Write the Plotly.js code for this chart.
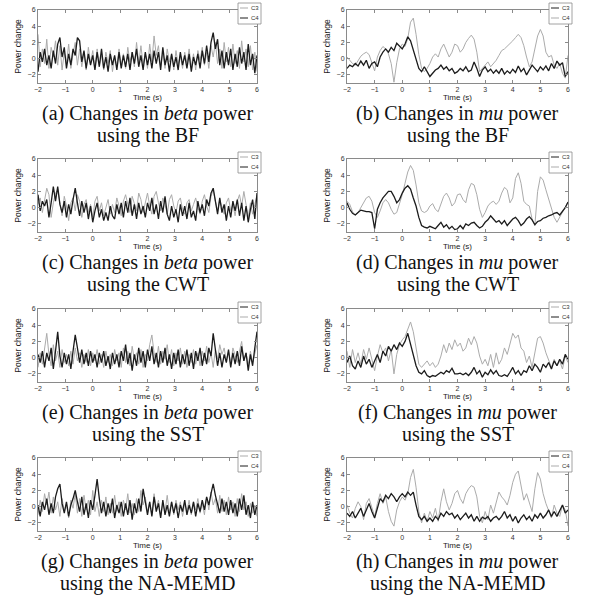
<!DOCTYPE html>
<html><head><meta charset="utf-8">
<script src="https://cdn.plot.ly/plotly-3.0.1.min.js"></script>
<style>html,body{margin:0;padding:0;background:#fff}</style>
</head><body><div id="chart" style="width:590px;height:599px"></div>
<script>
// ---- beta-band series (sample step 0.08 s, from -2 s to 6 s) ----
const betaBF_C3 = [3.0,-1.0,1.2,-0.6,2.4,-1.2,1.4,0.2,2.2,-0.8,1.6,-1.4,0.8,
 -0.6,1.8,-1.2,0.6,2.0,-0.8,1.2,-1.0,0.8,-1.4,1.4,-0.6,1.0,
 -1.2,1.2,-0.8,0.4,-1.4,0.8,-0.6,1.0,-1.6,0.2,-1.0,1.2,-0.8,
 0.6,-1.2,1.4,-0.4,0.8,-1.0,2.0,-0.6,1.6,-0.8,0.6,-1.2,
 1.8,-0.4,2.8,0.4,1.6,-1.0,0.8,-1.2,1.2,-0.4,0.6,-1.4,
 1.0,-0.8,0.4,-1.2,0.8,-0.6,1.2,-1.0,0.6,-1.4,1.0,-0.2,1.4,
 -0.8,0.8,-1.2,1.6,0.2,2.0,-0.6,1.2,-1.2,2.0,-0.4,1.4,
 -1.0,1.8,-0.6,1.0,-1.2,2.2,-0.4,1.2,-1.0,1.6,-1.4,0.8,-1.6];
const betaBF_C4 = [-1.6,0.8,-0.4,1.2,-0.8,0.4,-1.2,1.0,-0.6,1.8,2.6,0.2,1.4,
 -1.2,0.6,-0.8,1.2,0.4,2.6,2.2,-0.4,1.0,-1.2,0.6,-0.8,0.4,
 -1.4,0.8,-1.0,1.2,-1.2,0.2,-1.6,0.6,-0.8,0.4,-1.4,0.8,-1.2,
 0.4,-1.0,0.6,-1.4,0.8,-0.6,1.2,-1.0,0.4,-1.4,0.8,-0.8,
 0.6,-1.2,1.0,-0.6,0.8,-1.4,1.4,-0.8,0.4,-1.6,0.6,-1.0,
 0.2,-1.4,0.8,-0.8,0.4,-1.2,0.6,-1.6,0.2,-0.8,0.6,-1.2,1.0,
 -0.6,1.6,-0.4,2.0,3.2,1.2,2.4,-0.8,1.0,-1.2,0.8,-0.8,
 1.2,-1.4,0.6,-1.0,1.4,-0.6,0.8,-1.4,1.8,-0.8,0.6,-1.8,0.4];
const betaCWT_C3 = [0.4,1.2,-0.6,0.8,2.4,1.6,-1.2,0.6,1.8,2.2,0.4,-1.0,1.4,
 0.2,-1.6,0.6,1.2,-0.4,1.6,0.8,-1.2,0.4,1.0,-0.6,0.4,-1.2,
 0.8,1.4,-0.4,0.6,-1.0,0.2,1.0,-0.8,0.4,-0.6,1.2,0.2,-1.0,
 0.8,1.6,0.4,-0.6,1.4,0.6,-0.4,1.8,1.0,-0.6,0.8,1.8,
 0.2,-0.8,1.4,2.0,0.6,-0.4,1.2,0.4,-0.8,1.0,1.6,0.2,
 -0.6,0.8,1.2,-0.2,-0.8,0.6,1.0,-0.4,0.4,1.2,0.0,-0.8,0.8,
 1.6,0.2,-0.6,1.4,2.2,0.8,-0.4,1.0,0.2,-0.8,0.6,1.2,
 -0.4,0.4,-1.0,0.8,1.6,0.2,2.0,0.4,-1.2,0.6,-0.8,0.4,1.6];
const betaCWT_C4 = [1.6,-0.4,0.8,0.2,1.0,-1.2,0.6,2.6,0.8,2.6,0.4,-0.6,0.8,
 -1.2,0.4,-0.8,1.0,2.4,0.6,-1.0,0.8,-0.6,0.6,-1.4,0.2,-1.8,
 -0.4,0.6,-1.2,-0.2,-1.6,-0.6,-1.6,0.2,-1.0,-1.4,0.4,-0.8,0.6,
 -1.2,0.8,-0.6,1.2,-1.0,0.4,-1.4,0.6,-0.8,0.2,-1.2,0.6,
 -0.4,1.2,-0.8,0.4,-1.4,0.8,-0.6,1.4,-0.8,-1.6,0.2,-1.2,
 -0.2,-1.8,0.4,-1.0,0.2,-1.4,0.6,-1.2,-0.4,-1.6,0.8,-0.6,0.4,
 -1.0,1.0,0.2,1.8,2.4,0.6,-0.8,1.2,-0.6,0.4,-1.6,0.2,
 -1.2,0.8,-0.4,1.0,-1.0,0.6,-1.6,0.2,-1.8,-0.2,1.0,-1.4,1.8];
const betaSST_C3 = [0.4,-0.6,0.8,-1.2,0.6,-0.4,1.2,-1.4,0.8,3.2,0.2,-1.2,0.6,
 -0.8,0.4,-1.4,0.8,2.8,1.2,-0.6,1.0,-0.8,0.6,-1.0,0.8,-0.6,
 0.4,-1.2,0.6,-0.6,0.8,-1.0,0.2,-1.4,0.6,-0.8,0.4,-1.2,0.8,
 -0.4,1.6,-0.8,0.6,-1.6,0.4,-1.0,1.2,-0.6,0.8,-1.2,1.0,
 -0.4,1.4,-0.8,0.6,-1.2,0.8,-0.6,1.2,-1.0,0.4,-1.4,0.6,
 -0.8,1.0,-1.2,0.4,-0.8,1.0,-1.0,0.6,-1.4,0.8,-0.4,1.2,-1.0,
 0.6,-0.8,1.2,0.2,3.0,0.8,-1.0,0.6,-1.2,0.4,-0.6,1.0,
 -1.2,0.6,-0.8,0.8,-1.0,1.4,-0.4,0.6,-1.6,0.4,-1.0,1.2,3.2];
const betaSST_C4 = [-1.2,0.6,-0.8,1.4,3.0,0.4,-1.0,1.6,-0.4,0.8,-1.2,1.0,-0.6,
 0.4,-1.0,0.8,-0.8,1.2,-0.4,0.6,-1.2,0.4,-0.6,1.0,-1.0,0.6,
 -0.4,1.0,-0.8,0.4,-1.2,0.8,-0.6,0.4,-1.0,1.0,-0.4,0.6,-1.2,
 1.2,-0.6,0.8,-1.0,1.4,-0.2,0.6,-0.8,1.0,-1.2,0.4,-0.4,
 1.6,2.8,0.6,-0.6,1.4,-0.8,0.8,-0.2,1.6,-0.6,1.0,-1.0,
 0.6,-0.4,1.2,-0.8,0.8,-1.2,0.4,-0.6,1.0,-0.8,0.6,-1.0,0.8,
 -0.4,1.4,-0.6,0.6,-1.2,1.0,-0.2,1.6,0.4,1.2,-0.4,0.8,
 -0.8,1.2,0.2,-0.6,0.8,2.0,-0.4,0.6,-1.0,0.8,-0.6,0.4,1.6];
const betaMEMD_C3 = [-1.0,0.8,-0.6,1.6,0.2,1.8,-0.8,1.2,-0.4,0.6,-1.2,1.0,-0.6,
 0.4,-1.4,0.8,-0.2,1.6,-0.8,1.0,-1.2,1.4,-0.4,0.8,-1.0,2.0,
 -0.6,0.6,-1.2,0.8,-0.6,1.2,-1.0,0.4,-0.8,1.4,-0.6,0.6,-1.2,
 0.8,-0.4,1.6,-0.8,0.4,-1.0,1.0,-0.6,2.0,0.2,1.2,-0.8,
 0.6,-1.0,1.6,-0.2,0.8,-1.2,0.4,-0.6,1.4,-0.8,0.6,-1.0,
 0.8,-0.4,0.6,-1.2,0.4,-0.6,0.8,-1.0,0.6,-0.4,1.0,-0.8,0.4,
 -1.0,1.2,-0.4,1.8,0.2,1.0,-0.8,1.4,-0.6,0.8,-1.0,1.2,
 -0.4,0.6,-1.2,1.0,-0.6,1.6,-0.4,0.6,-1.2,0.4,-0.8,0.2,-1.2];
const betaMEMD_C4 = [0.2,-1.2,0.6,-0.4,1.0,-1.0,0.4,-0.8,1.2,2.2,2.8,0.4,-0.8,
 0.6,-1.2,0.2,1.0,2.0,0.6,-0.6,1.2,-1.0,0.4,-1.4,0.8,-0.4,
 1.4,3.4,1.0,-0.8,0.6,-1.2,0.4,-0.8,1.0,-1.4,0.2,-0.8,0.6,
 -1.2,0.4,-1.0,0.8,-1.6,0.4,-0.8,1.0,-0.6,2.2,0.8,-1.0,
 0.6,-1.2,1.2,-0.6,0.4,-1.4,0.8,-1.0,0.2,-1.2,0.6,-0.8,
 0.4,-1.4,0.2,-0.6,0.8,-1.0,0.2,-0.8,0.6,-1.2,0.4,-0.6,0.8,
 -0.4,1.2,0.2,1.6,2.8,1.4,0.2,-0.8,1.0,-0.6,0.6,-1.0,
 0.8,-0.8,0.4,-1.2,1.0,-0.4,1.4,-1.0,0.2,-1.4,0.6,-1.0,0.2];

// ---- mu-band series (sample step 0.1 s, from -2 s to 6 s) ----
const muBF_C3 = [-1.2,-0.8,-1.0,-0.6,-0.9,-0.3,-0.8,-0.2,-1.2,-0.6,
 -0.4,-1.0,0.2,0.8,1.2,0.8,1.4,1.0,1.9,1.5,
 1.2,1.8,2.7,2.2,1.0,-0.2,-1.2,-1.6,-1.0,-1.6,
 -2.2,-1.8,-1.4,-1.2,-0.8,-1.3,-1.0,-1.5,-1.2,-1.8,
 -1.6,-1.2,-1.5,-1.0,-1.6,-1.4,-0.4,-1.2,-2.2,-1.4,
 -1.0,-1.6,-1.3,-1.8,-1.4,-1.8,-1.2,-1.9,-1.5,-1.8,
 -1.3,-1.7,-0.9,-1.6,-1.2,-2.0,-1.4,-0.8,-1.2,-1.6,
 -1.0,-1.4,-0.9,-1.5,-0.6,-1.2,-0.3,-0.8,-0.5,-2.2,
 -1.6];
const muBF_C4 = [0.2,-0.2,-0.6,-0.8,-0.2,0.3,0.6,0.8,0.5,-0.5,
 -1.5,0.2,1.0,1.5,1.2,0.6,-0.6,-2.9,-0.5,1.2,
 1.8,1.5,2.5,4.5,5.0,3.0,0.5,-1.2,-1.6,-1.2,
 -0.6,0.2,0.6,0.2,1.2,1.8,1.0,0.2,0.8,1.8,
 1.6,0.8,1.2,2.0,2.5,2.9,2.4,0.8,-1.6,-1.2,
 -0.8,-0.4,-1.0,-0.6,-0.2,0.4,1.0,1.2,1.5,1.8,
 2.2,2.6,3.0,2.6,1.6,0.2,-1.0,-0.4,1.2,2.8,
 3.6,2.8,0.8,0.2,0.4,-0.8,-1.2,-0.6,-1.8,-2.4,
 0.4];
const muCWT_C3 = [0.6,-0.2,-0.7,-0.9,-0.6,-0.3,-0.4,-0.5,-0.5,-0.6,
 -2.6,-0.2,0.6,1.2,1.6,2.0,2.0,1.4,0.6,1.0,
 1.8,2.4,2.7,2.3,1.2,0.2,-1.2,-2.2,-2.4,-2.5,
 -2.3,-2.5,-2.6,-2.2,-1.8,-2.4,-2.1,-2.6,-2.3,-2.7,
 -2.6,-2.2,-2.6,-2.0,-2.2,-1.9,-1.8,-2.2,-2.5,-2.3,
 -1.8,-1.5,-1.0,-1.4,-1.8,-1.6,-2.0,-1.6,-2.2,-1.8,
 -1.4,-1.2,-1.6,-2.2,-1.9,-1.4,-1.1,-1.5,-2.1,-1.7,
 -1.6,-1.3,-1.2,-1.0,-0.9,-0.7,-0.6,-0.9,-0.5,0.0,
 0.7];
const muCWT_C4 = [0.8,0.4,-0.5,-0.9,-0.6,0.0,0.6,1.2,1.4,0.8,
 -0.6,-1.2,-0.4,0.6,1.0,0.6,-0.2,-0.8,-0.6,0.4,
 1.6,3.0,4.4,5.2,4.6,2.8,0.6,-0.4,-0.6,-0.4,
 0.2,0.5,-0.2,-0.5,0.4,1.4,1.8,1.2,0.2,0.6,
 1.6,1.7,1.0,0.6,2.2,3.0,2.8,1.6,-0.2,-1.2,
 -0.6,0.2,0.6,0.8,0.4,0.8,1.8,2.5,2.2,0.6,
 1.2,3.6,4.3,3.0,0.8,0.4,0.2,-1.4,-2.2,2.0,
 3.8,3.4,2.2,1.0,-0.2,-1.2,-1.8,-1.2,-0.6,0.0,
 0.7];
const muSST_C3 = [0.8,-1.2,1.0,-0.6,0.6,-0.8,1.0,-0.2,1.2,-0.4,
 -1.6,0.2,1.6,0.6,1.2,-0.4,1.0,-2.0,0.4,1.6,
 2.2,2.6,3.6,4.4,3.2,1.0,-0.8,-1.2,-0.8,-0.4,
 -1.0,-0.6,-1.2,-0.8,0.2,1.6,0.6,1.8,1.0,2.2,
 1.4,1.8,0.8,1.2,2.4,1.6,2.6,1.8,0.2,-0.8,
 -0.2,-1.0,0.4,-1.2,0.6,-0.8,-0.2,1.2,0.4,1.6,
 3.0,2.4,2.8,1.2,0.8,-0.6,0.2,-1.2,0.6,2.4,
 2.6,1.8,0.6,-0.4,-1.2,-0.2,-1.0,-0.4,-1.4,0.2,
 -0.6];
const muSST_C4 = [-0.6,0.2,-1.0,-1.4,-0.4,-1.2,0.2,-0.8,-0.2,-1.2,
 -0.4,0.4,-0.6,0.8,0.2,1.4,0.8,1.6,1.0,1.8,
 1.4,2.0,3.0,1.6,0.4,-1.0,-1.8,-2.0,-1.6,-2.2,
 -2.4,-2.2,-2.3,-2.0,-1.8,-2.0,-1.6,-1.8,-1.3,-2.0,
 -2.0,-1.9,-2.1,-1.9,-2.2,-1.8,-1.2,-2.0,-1.6,-2.4,
 -1.8,-2.1,-1.5,-2.0,-1.6,-2.2,-2.3,-2.1,-2.3,-1.8,
 -1.2,-2.0,-1.6,-2.2,-1.6,-1.8,-1.0,-1.6,-0.8,-1.2,
 -1.8,-0.8,-1.2,-0.6,-1.4,-0.4,-1.0,-0.2,-0.8,0.4,
 -0.2];
const muMEMD_C3 = [-0.8,-1.2,-0.6,-1.4,-0.8,-0.2,-1.2,-0.4,0.4,-0.6,
 -1.4,-0.2,1.0,0.6,1.4,1.0,1.6,1.2,0.6,1.2,
 1.6,1.2,1.8,1.4,1.8,0.2,-1.2,-1.6,-1.2,-1.8,
 -1.4,-1.8,-1.2,-1.6,-0.8,-1.2,-0.6,-1.0,-0.8,-1.4,
 -1.0,-1.6,-1.2,-0.8,-1.4,-1.0,-1.8,-1.2,-1.8,-1.3,
 -1.5,-1.2,-1.8,-1.4,-1.2,-1.6,-1.2,-0.6,-1.4,-1.0,
 -1.8,-1.2,-2.0,-1.4,-1.0,-1.6,-1.2,-1.8,-1.0,-1.4,
 -0.8,-1.4,-1.0,-0.4,-1.2,-0.6,-1.2,-0.4,0.2,-0.8,
 -0.4];
const muMEMD_C4 = [0.2,-0.8,-1.4,-0.2,0.6,0.0,-1.6,0.4,1.0,-0.2,
 -1.2,0.4,1.6,0.4,1.2,-0.6,-1.8,-2.4,-0.4,0.6,
 1.2,0.8,1.6,3.6,4.6,2.4,-0.6,-2.0,-0.8,-1.8,
 -0.6,-1.4,-0.2,-1.8,0.6,2.2,0.6,-0.4,0.4,1.6,
 2.0,1.0,0.4,1.6,2.2,2.6,2.4,1.2,-1.2,-2.0,
 -0.6,-1.6,0.2,-0.8,0.6,1.8,1.2,0.8,0.2,1.4,
 3.0,4.0,4.4,2.6,0.8,1.6,0.4,-0.6,2.2,4.2,
 3.4,1.6,0.4,-0.4,-1.4,0.2,-0.8,-1.2,0.2,-0.4,
 -2.4];

const xTicks = [-2,-1,0,1,2,3,4,5,6];
const yTicks = [-2,0,2,4,6];
const captions1 = ['(a) Changes in <i>beta</i> power','(b) Changes in <i>mu</i> power',
 '(c) Changes in <i>beta</i> power','(d) Changes in <i>mu</i> power',
 '(e) Changes in <i>beta</i> power','(f) Changes in <i>mu</i> power',
 '(g) Changes in <i>beta</i> power','(h) Changes in <i>mu</i> power'];
const captions2 = ['using the BF','using the BF','using the CWT','using the CWT',
 'using the SST','using the SST','using the NA-MEMD','using the NA-MEMD'];

const panels = [
 {c3: betaBF_C3, c4: betaBF_C4, dark: 'C4', dt: 0.08},
 {c3: muBF_C3, c4: muBF_C4, dark: 'C3', dt: 0.1},
 {c3: betaCWT_C3, c4: betaCWT_C4, dark: 'C4', dt: 0.08},
 {c3: muCWT_C3, c4: muCWT_C4, dark: 'C3', dt: 0.1},
 {c3: betaSST_C3, c4: betaSST_C4, dark: 'C3', dt: 0.08},
 {c3: muSST_C3, c4: muSST_C4, dark: 'C4', dt: 0.1},
 {c3: betaMEMD_C3, c4: betaMEMD_C4, dark: 'C4', dt: 0.08},
 {c3: muMEMD_C3, c4: muMEMD_C4, dark: 'C3', dt: 0.1}
];

const W = 590, H = 599;
const colX = [[38, 257], [347, 568]];
const rowTop = [10, 159, 309, 458];
const PH = 73;
const DARK = '#1c1c1c', LIGHT = '#ababab';
const px = v => v / W, py = v => 1 - v / H;

const traces = [];
const layout = {
  width: W, height: H, margin: {l: 0, r: 0, t: 0, b: 0},
  paper_bgcolor: '#fff', plot_bgcolor: '#fff', showlegend: false,
  font: {family: 'Liberation Sans, Arial, sans-serif', color: '#333'},
  shapes: [], annotations: []
};

panels.forEach((p, i) => {
  const col = i % 2, row = Math.floor(i / 2);
  const sfx = i === 0 ? '' : String(i + 1);
  const xa = 'x' + sfx, ya = 'y' + sfx;
  const [x0, x1] = colX[col];
  const top = rowTop[row], bot = top + PH;
  const order = p.dark === 'C4' ? ['C3', 'C4'] : ['C4', 'C3'];
  order.forEach(name => {
    const isDark = name === p.dark;
    traces.push({
      type: 'scatter', mode: 'lines', name: name,
      y: name === 'C3' ? p.c3 : p.c4, x0: -2, dx: p.dt,
      xaxis: xa, yaxis: ya,
      line: {color: isDark ? DARK : LIGHT, width: isDark ? 1.3 : 1.0},
      hoverinfo: 'skip'
    });
  });
  const axCommon = {
    showline: true, mirror: 'ticks', linecolor: '#8a8a8a', linewidth: 1,
    ticks: 'inside', ticklen: 3, tickcolor: '#8a8a8a', showgrid: false, zeroline: false,
    tickfont: {size: 7, color: '#333'}, automargin: false, fixedrange: true
  };
  layout['xaxis' + sfx] = Object.assign({}, axCommon, {
    domain: [px(x0), px(x1)], anchor: ya, range: [-2, 6],
    tickmode: 'array', tickvals: xTicks,
    title: {text: 'Time (s)', font: {size: 8, color: '#222'}, standoff: 0}
  });
  layout['yaxis' + sfx] = Object.assign({}, axCommon, {
    domain: [py(bot), py(top)], anchor: xa, range: [-3, 6],
    tickmode: 'array', tickvals: yTicks,
    title: {text: 'Power change', font: {size: 8.5, color: '#222'}, standoff: 4}
  });
  // small legend box in the top-right corner
  const lx0 = x1 - 19, lx1 = x1 + 4, ly0 = top - 7, ly1 = top + 14;
  layout.shapes.push({type: 'rect', xref: 'paper', yref: 'paper',
    x0: px(lx0), x1: px(lx1), y0: py(ly1), y1: py(ly0),
    fillcolor: '#fff', line: {color: '#8a8a8a', width: 0.8}, layer: 'above'});
  ['C3', 'C4'].forEach((name, k) => {
    const yy = ly0 + 5 + k * 10;
    const isDark = name === p.dark;
    layout.shapes.push({type: 'line', xref: 'paper', yref: 'paper',
      x0: px(lx0 + 2), x1: px(lx0 + 10), y0: py(yy), y1: py(yy),
      line: {color: isDark ? DARK : LIGHT, width: 1}, layer: 'above'});
    layout.annotations.push({xref: 'paper', yref: 'paper', x: px(lx0 + 10.5), y: py(yy),
      xanchor: 'left', yanchor: 'middle', text: name, showarrow: false,
      font: {size: 6, color: '#333'}});
  });
  const cx = px((x0 + x1) / 2);
  layout.annotations.push({xref: 'paper', yref: 'paper', x: cx, y: py(top + 103),
    xanchor: 'center', yanchor: 'middle', text: captions1[i], showarrow: false,
    font: {family: 'Liberation Serif, Times New Roman, serif', size: 20, color: '#111'}});
  layout.annotations.push({xref: 'paper', yref: 'paper', x: cx, y: py(top + 125),
    xanchor: 'center', yanchor: 'middle', text: captions2[i], showarrow: false,
    font: {family: 'Liberation Serif, Times New Roman, serif', size: 20, color: '#111'}});
});

Plotly.newPlot('chart', traces, layout, {staticPlot: true, displayModeBar: false});
</script>
</body></html>
